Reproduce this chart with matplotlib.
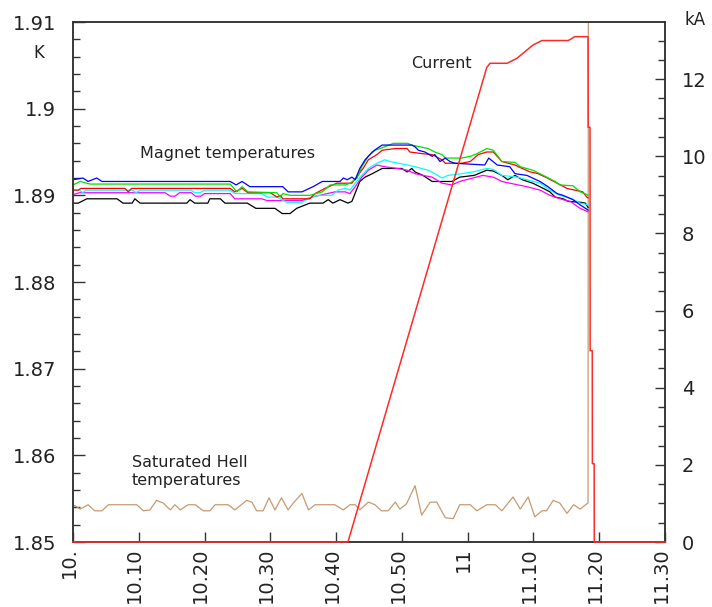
import matplotlib
matplotlib.use("Agg")
import matplotlib.pyplot as plt
from matplotlib.ticker import MultipleLocator
from matplotlib.transforms import ScaledTranslation

# time in minutes after 10:00
t_blue = [0, 1.5, 2.3, 3.6, 4.4, 23.9, 24.8, 25.7, 26.5, 26.9, 31.9, 32.7, 34.8, 36.5, 37.9, 40.6, 41.1, 41.7, 42.4, 42.9,
          43.6, 44.4, 45.5, 46.2, 47.0, 51.5, 52.0, 52.5, 53.5, 54.6, 55.0, 55.8, 56.6, 57.3, 58.1, 62.6, 63.2, 64.5, 66.4, 67.2,
          69.0, 71.0, 72.2, 73.6, 74.5, 76.0, 77.1, 78.3]
T_blue = [1.8918, 1.8920, 1.8916, 1.8920, 1.8916, 1.8916, 1.8912, 1.8916, 1.8912, 1.8910, 1.8910, 1.8904, 1.8904, 1.8910, 1.8916,
          1.8916, 1.8920, 1.8918, 1.8921, 1.8918, 1.8931, 1.8941, 1.8950, 1.8954, 1.8958, 1.8958, 1.8956, 1.8952, 1.8950, 1.8945,
          1.8947, 1.8939, 1.8943, 1.8939, 1.8937, 1.8935, 1.8943, 1.8935, 1.8933, 1.8925, 1.8923, 1.8916, 1.8910, 1.8902, 1.8900,
          1.8895, 1.8889, 1.8883]

t_green = [0, 1.1, 2.6, 23.9, 24.9, 25.7, 26.6, 31.0, 31.5, 31.9, 33.0, 36.0, 37.9, 39.1, 41.4, 42.1, 43.2, 43.9, 44.9, 45.9,
           46.7, 48.7, 50.9, 51.5, 54.0, 55.0, 56.1, 56.6, 59.1, 60.4, 61.4, 62.9, 63.9, 65.2, 67.2, 68.0, 69.9, 71.5, 73.3, 74.0,
           76.0, 77.1, 78.1, 78.3]
T_green = [1.8912, 1.8916, 1.8913, 1.8913, 1.8904, 1.8910, 1.8904, 1.8903, 1.8898, 1.8902, 1.8900, 1.8900, 1.8904, 1.8912, 1.8912,
           1.8914, 1.8920, 1.8933, 1.8945, 1.8952, 1.8954, 1.8960, 1.8960, 1.8958, 1.8954, 1.8950, 1.8947, 1.8943, 1.8943, 1.8945,
           1.8948, 1.8954, 1.8952, 1.8939, 1.8938, 1.8933, 1.8929, 1.8923, 1.8916, 1.8912, 1.8911, 1.8904, 1.8901, 1.8900]

t_red = [0, 0.8, 1.2, 7.9, 8.4, 8.9, 23.9, 24.6, 25.7, 26.6, 30.0, 31.0, 31.5, 31.9, 36.0, 36.8, 38.3, 40.1, 42.4, 43.3,
         44.1, 44.9, 46.2, 47.0, 49.0, 50.8, 51.2, 53.2, 54.6, 56.1, 56.6, 59.1, 60.4, 61.6, 62.9, 63.9, 65.2, 67.2, 67.7, 69.5,
         70.7, 72.1, 73.6, 75.1, 76.3, 77.5, 78.1, 78.3]
T_red = [1.8906, 1.8906, 1.8908, 1.8908, 1.8904, 1.8908, 1.8908, 1.8904, 1.8908, 1.8903, 1.8903, 1.8898, 1.8900, 1.8896, 1.8896,
         1.8902, 1.8908, 1.8914, 1.8914, 1.8923, 1.8931, 1.8941, 1.8947, 1.8952, 1.8954, 1.8954, 1.8950, 1.8948, 1.8947, 1.8941,
         1.8937, 1.8937, 1.8939, 1.8947, 1.8950, 1.8950, 1.8939, 1.8935, 1.8933, 1.8927, 1.8925, 1.8920, 1.8914, 1.8908, 1.8906,
         1.8904, 1.8898, 1.8897]

t_cyan = [0, 1.0, 1.5, 2.0, 9.0, 9.6, 10.2, 18.0, 18.5, 19.3, 20.0, 23.9, 24.6, 28.7, 29.5, 31.0, 32.5, 34.8, 36.3, 37.2,
          39.4, 40.3, 41.4, 42.1, 42.9, 43.9, 44.9, 46.2, 47.4, 48.2, 50.8, 52.0, 54.0, 55.0, 56.1, 57.0, 59.1, 60.8, 62.9, 63.9,
          65.2, 67.5, 69.0, 71.0, 72.5, 74.0, 75.9, 77.1, 78.3]
T_cyan = [1.8906, 1.8906, 1.8903, 1.8906, 1.8906, 1.8903, 1.8906, 1.8906, 1.8903, 1.8903, 1.8906, 1.8906, 1.8902, 1.8902, 1.8898,
          1.8898, 1.8892, 1.8892, 1.8898, 1.8900, 1.8900, 1.8906, 1.8908, 1.8906, 1.8914, 1.8923, 1.8931, 1.8937, 1.8941, 1.8939,
          1.8935, 1.8933, 1.8929, 1.8925, 1.8920, 1.8923, 1.8925, 1.8927, 1.8931, 1.8930, 1.8923, 1.8921, 1.8918, 1.8914, 1.8906,
          1.8900, 1.8896, 1.8891, 1.8889]

t_mag = [0, 1.0, 14.0, 14.8, 15.5, 16.2, 18.0, 18.6, 19.4, 20.0, 23.9, 24.6, 28.7, 29.5, 34.8, 36.3, 37.5, 39.8, 41.4, 42.1,
         42.9, 43.9, 44.9, 46.2, 47.4, 49.3, 50.8, 52.0, 53.2, 54.6, 56.1, 57.6, 58.8, 60.8, 62.3, 63.9, 65.2, 66.4, 69.0, 71.0,
         72.5, 74.5, 75.6, 77.1, 78.3]
T_mag = [1.8901, 1.8903, 1.8903, 1.8899, 1.8899, 1.8903, 1.8903, 1.8899, 1.8899, 1.8902, 1.8902, 1.8896, 1.8896, 1.8894, 1.8894,
         1.8898, 1.8900, 1.8904, 1.8904, 1.8902, 1.8910, 1.8921, 1.8929, 1.8935, 1.8933, 1.8931, 1.8929, 1.8925, 1.8923, 1.8921,
         1.8914, 1.8912, 1.8916, 1.8920, 1.8923, 1.8921, 1.8916, 1.8914, 1.8910, 1.8906, 1.8900, 1.8895, 1.8893, 1.8885, 1.8881]

t_blk = [0, 0.8, 2.1, 6.7, 7.6, 9.0, 9.4, 10.2, 17.3, 17.8, 18.5, 20.5, 20.8, 22.4, 23.1, 26.5, 27.8, 30.7, 31.8, 33.0,
         34.0, 36.0, 38.0, 38.8, 39.5, 40.6, 41.8, 42.4, 43.6, 44.4, 45.5, 47.0, 50.0, 50.8, 51.5, 52.0, 53.2, 54.6, 57.6, 58.8,
         61.0, 62.9, 63.9, 65.2, 66.1, 67.2, 68.3, 69.9, 71.5, 72.5, 73.3, 74.5, 75.3, 77.1, 77.9, 78.3]
T_blk = [1.8891, 1.8891, 1.8896, 1.8896, 1.8891, 1.8891, 1.8896, 1.8891, 1.8891, 1.8895, 1.8891, 1.8891, 1.8896, 1.8896, 1.8891,
         1.8891, 1.8885, 1.8885, 1.8879, 1.8879, 1.8885, 1.8891, 1.8891, 1.8895, 1.8891, 1.8895, 1.8891, 1.8893, 1.8916, 1.8921,
         1.8925, 1.8931, 1.8931, 1.8927, 1.8931, 1.8927, 1.8923, 1.8916, 1.8916, 1.8921, 1.8923, 1.8929, 1.8928, 1.8923, 1.8918,
         1.8923, 1.8918, 1.8914, 1.8908, 1.8904, 1.8898, 1.8896, 1.8893, 1.8892, 1.8891, 1.8886]

t_he = [0, 0.3, 1.1, 2.3, 3.3, 4.4, 5.4, 9.7, 10.7, 11.7, 12.7, 13.7, 14.8, 15.5, 16.3, 17.5, 18.6, 19.8, 20.8, 21.6,
        23.6, 24.6, 26.4, 27.2, 27.9, 28.9, 29.8, 30.7, 31.7, 32.7, 33.5, 34.8, 35.8, 36.8, 39.8, 41.1, 42.1, 42.9, 43.6, 44.9,
        45.9, 46.9, 47.9, 49.0, 49.7, 50.7, 52.0, 53.0, 54.3, 55.3, 56.6, 57.8, 58.8, 60.4, 61.4, 62.9, 64.2, 65.2, 66.9, 68.0,
        69.2, 70.2, 71.3, 72.0, 73.0, 74.0, 75.1, 76.1, 77.1, 78.1, 78.3, 78.35]
T_he = [1.8542, 1.8542, 1.8538, 1.8543, 1.8536, 1.8536, 1.8543, 1.8543, 1.8536, 1.8537, 1.8548, 1.8545, 1.8537, 1.8543, 1.8537,
        1.8543, 1.8543, 1.8536, 1.8536, 1.8543, 1.8543, 1.8537, 1.8548, 1.8546, 1.8536, 1.8536, 1.8551, 1.8537, 1.8551, 1.8537,
        1.8545, 1.8556, 1.8537, 1.8543, 1.8543, 1.8537, 1.8543, 1.8543, 1.8537, 1.8546, 1.8543, 1.8536, 1.8536, 1.8546, 1.8538,
        1.8544, 1.8565, 1.8531, 1.8546, 1.8546, 1.8528, 1.8527, 1.8543, 1.8543, 1.8536, 1.8543, 1.8543, 1.8536, 1.8552, 1.8538,
        1.8552, 1.8529, 1.8536, 1.8536, 1.8548, 1.8545, 1.8533, 1.8543, 1.8538, 1.8544, 1.8545, 1.9200]

t_cur = [0, 41.8, 62.9, 63.4, 66.0, 67.5, 69.9, 71.3, 75.3, 76.3, 78.3, 78.32, 78.6, 78.62, 78.94, 78.96, 79.23, 79.25, 90]
I_cur = [0, 0, 12.3, 12.41, 12.41, 12.54, 12.88, 13.0, 13.0, 13.1, 13.1, 10.75, 10.75, 4.96, 4.96, 2.03, 2.03, 0, 0]

x_ticks = [0, 10, 20, 30, 40, 50, 60, 70, 80, 90]
x_labels = ["10.", "10.10", "10.20", "10.30", "10.40", "10.50", "11", "11.10", "11.20", "11.30"]
yl_ticks = [1.85, 1.86, 1.87, 1.88, 1.89, 1.90, 1.91]
yl_labels = ["1.85", "1.86", "1.87", "1.88", "1.89", "1.9", "1.91"]
yr_ticks = [0, 2, 4, 6, 8, 10, 12]
yr_labels = ["0", "2", "4", "6", "8", "10", "12"]

W, H = 712, 607
fig = plt.figure(figsize=(W / 100, H / 100), dpi=100)
ax = fig.add_axes([73 / W, 65 / H, 592 / W, 520 / H])
tc = "#222222"
sc = "#333333"

lw = 0.9
ax.plot(t_he, T_he, color="#c89a70", lw=lw, zorder=2)
ax.plot(t_blk, T_blk, color="black", lw=lw, zorder=2)
ax.plot(t_mag, T_mag, color="#ff00ff", lw=lw, zorder=2)
ax.plot(t_cyan, T_cyan, color="#00ffff", lw=lw, zorder=2)
ax.plot(t_red, T_red, color="#ff0000", lw=lw, zorder=2)
ax.plot(t_green, T_green, color="#00e000", lw=lw, zorder=2)
ax.plot(t_blue, T_blue, color="#0000ff", lw=lw, zorder=2)

ax.set_xlim(0, 90)
ax.set_ylim(1.85, 1.91)
ax.set_xticks(x_ticks)
ax.set_xticklabels(x_labels)
ax.set_yticks(yl_ticks)
ax.set_yticklabels(yl_labels)
ax.yaxis.set_minor_locator(MultipleLocator(0.002))
ax.tick_params(axis="y", which="major", direction="in", length=8.6, width=1.0, color=sc,
               labelsize=14, pad=12, labelcolor=tc)
ax.tick_params(axis="y", which="minor", direction="in", length=5, width=1.0, color=sc)
ax.tick_params(axis="x", which="major", direction="in", length=7.2, width=1.0, color=sc,
               labelsize=14, pad=4, labelrotation=90, labelcolor=tc)
for lab in ax.get_xticklabels():
    lab.set_transform(lab.get_transform() + ScaledTranslation(-4 / 100, 0, fig.dpi_scale_trans))

ax2 = ax.twinx()
ax2.plot(t_cur, I_cur, color="#ff2a2a", lw=1.1, zorder=3, clip_on=False)
ax2.set_ylim(0, 13.48)
ax2.set_yticks(yr_ticks)
ax2.set_yticklabels(yr_labels)
ax2.yaxis.set_minor_locator(MultipleLocator(0.5))
ax2.tick_params(axis="y", which="major", direction="in", length=7.2, width=1.0, color=sc,
                labelsize=14, pad=12, labelcolor=tc)
ax2.tick_params(axis="y", which="minor", direction="in", length=5, width=1.0, color=sc)

for a in (ax, ax2):
    for s in a.spines.values():
        s.set_color(sc)
        s.set_linewidth(1.1)

def ftext(x, y, s, **kw):
    fig.text(x / W, 1 - y / H, s, color=tc, va="baseline", ha="left", **kw)

ftext(140, 158, "Magnet temperatures", fontsize=11.5)
ftext(411, 68, "Current", fontsize=11.5)
ftext(132, 467, "Saturated Hell", fontsize=11.5)
ftext(132, 485, "temperatures", fontsize=11.5)
ftext(33, 58, "K", fontsize=12)
ftext(685, 25, "kA", fontsize=12)

fig.savefig("out.png", dpi=100)
